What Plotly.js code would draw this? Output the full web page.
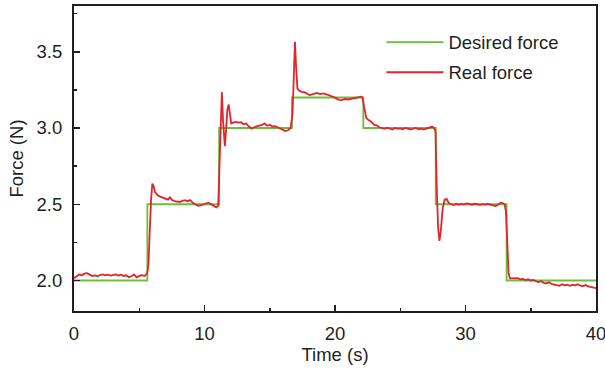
<!DOCTYPE html>
<html>
<head>
<meta charset="utf-8">
<script src="https://cdn.plot.ly/plotly-3.0.1.min.js"></script>
<style>html,body{margin:0;padding:0;background:#fff;}#chart{width:605px;height:369px;}</style>
</head>
<body>
<div id="chart"></div>
<script>
// Desired force (step profile)
const desiredTime  = [0, 5.62, 11.12, 16.7, 22.17, 27.72, 33.15, 40];
const desiredForce = [2.0, 2.5, 3.0, 3.2, 3.0, 2.5, 2.0, 2.0];

// Real force (measured)
const realTime = [
  0.0,0.2,0.4,0.6,0.8,1.0,1.2,1.4,1.6,1.8,2.0,2.2,2.4,2.6,2.8,3.0,3.2,3.4,3.6,3.8,4.0,4.2,4.4,4.6,4.8,5.0,5.2,5.4,5.6,
  5.7,5.8,5.9,6.0,6.1,6.2,6.4,6.6,6.8,7.0,7.2,7.35,7.5,7.7,7.9,8.1,8.3,8.5,8.7,8.9,9.1,9.3,9.5,9.7,9.9,10.1,10.3,10.5,10.7,10.9,11.05,
  11.15,11.25,11.33,11.42,11.5,11.56,11.65,11.75,11.85,11.95,12.05,12.2,12.4,12.6,12.8,13.0,13.2,13.4,13.6,13.8,14.0,14.2,14.4,14.6,14.8,15.0,15.2,15.4,15.6,15.8,16.0,16.2,16.4,16.6,
  16.75,16.85,16.93,17.02,17.12,17.25,17.45,17.65,17.85,18.05,18.3,18.6,18.85,19.1,19.35,19.6,19.85,20.1,20.3,20.5,20.75,21.0,21.25,21.5,21.75,21.95,22.1,
  22.25,22.4,22.6,22.8,23.0,23.2,23.4,23.6,23.8,24.0,24.2,24.4,24.6,24.8,25.0,25.2,25.4,25.6,25.8,26.0,26.2,26.4,26.6,26.8,27.0,27.2,27.4,27.55,27.7,
  27.8,27.9,28.0,28.1,28.25,28.4,28.55,28.7,28.9,29.1,29.3,29.5,29.7,29.9,30.1,30.3,30.5,30.7,30.9,31.1,31.3,31.5,31.7,31.9,32.1,32.3,32.5,32.7,32.85,33.0,
  33.1,33.2,33.3,33.4,33.6,33.8,34.0,34.2,34.4,34.6,34.8,35.0,35.2,35.4,35.6,35.8,36.0,36.2,36.4,36.6,36.8,37.0,37.2,37.4,37.6,37.8,38.0,38.2,38.4,38.6,38.8,39.0,39.2,39.4,39.6,39.8,40.0
];
const realForce = [
  2.015,2.03,2.04,2.035,2.045,2.048,2.038,2.03,2.034,2.028,2.036,2.04,2.034,2.038,2.032,2.036,2.04,2.033,2.038,2.03,2.034,2.022,2.028,2.04,2.02,2.03,2.035,2.03,2.045,
  2.10,2.35,2.52,2.635,2.62,2.58,2.56,2.55,2.545,2.535,2.53,2.545,2.53,2.52,2.515,2.515,2.522,2.527,2.52,2.527,2.51,2.498,2.49,2.492,2.5,2.505,2.51,2.5,2.485,2.48,2.49,
  2.75,3.1,3.235,3.05,2.9,2.88,2.98,3.12,3.155,3.08,3.03,3.035,3.04,3.035,3.038,3.025,3.03,3.01,2.997,3.005,3.008,3.015,3.02,3.03,3.015,3.022,3.01,3.012,3.005,2.995,2.988,2.98,2.985,3.0,
  3.1,3.4,3.565,3.4,3.26,3.245,3.237,3.235,3.227,3.216,3.222,3.23,3.222,3.227,3.22,3.215,3.205,3.194,3.185,3.183,3.19,3.187,3.19,3.194,3.2,3.205,3.2,
  3.13,3.065,3.05,3.04,3.02,3.018,3.005,3.0,2.995,3.002,2.997,2.99,3.0,2.995,2.998,2.992,3.0,2.996,2.99,2.995,3.0,2.992,2.996,2.99,2.995,3.0,3.008,3.005,2.98,
  2.6,2.35,2.26,2.32,2.47,2.53,2.535,2.51,2.5,2.495,2.503,2.497,2.502,2.498,2.506,2.5,2.497,2.503,2.5,2.496,2.501,2.498,2.503,2.497,2.492,2.488,2.497,2.51,2.508,2.5,
  2.45,2.2,2.05,2.014,2.015,2.012,2.015,2.008,2.01,2.003,2.008,2.0,2.004,1.995,1.99,1.995,1.985,1.982,1.988,1.978,1.975,1.968,1.965,1.975,1.968,1.972,1.965,1.972,1.968,1.975,1.966,1.964,1.97,1.962,1.958,1.955,1.95
];

const xTickVals = [0, 10, 20, 30, 40];
const yTickVals = [2.0, 2.5, 3.0, 3.5];

const font = {family: 'Liberation Sans, Arial, sans-serif', size: 18.5, color: '#231f20'};

const traces = [
  {x: desiredTime, y: desiredForce, name: 'Desired force', mode: 'lines', legendgroup: 'a',
   line: {color: '#6cbf3c', width: 1.8, shape: 'hv'}},
  {x: realTime, y: realForce, name: 'Real force', mode: 'lines', legendgroup: 'b',
   line: {color: '#e2242c', width: 1.8}}
];

const axisCommon = {
  showgrid: false, zeroline: false, showline: true, mirror: true,
  linecolor: '#231f20', linewidth: 2,
  ticks: 'inside', ticklen: 6, tickwidth: 1.5, tickcolor: '#231f20',
  tickfont: font, ticklabeloverflow: 'allow'
};

const layout = {
  width: 605, height: 369,
  margin: {l: 74, r: 9, t: 6, b: 58},
  paper_bgcolor: '#ffffff', plot_bgcolor: '#ffffff',
  font: font,
  showlegend: true,
  legend: {x: 0.589, y: 0.942, xanchor: 'left', yanchor: 'top', bgcolor: 'rgba(0,0,0,0)',
           font: font, itemwidth: 57, traceorder: 'grouped', tracegroupgap: 3},
  xaxis: Object.assign({}, axisCommon, {
    range: [0, 40], tickvals: xTickVals, ticktext: xTickVals.map(String),
    ticklabelstandoff: 5,
    minor: {ticks: 'inside', ticklen: 3, tickwidth: 1.5, tickcolor: '#231f20', dtick: 5, tick0: 0},
    title: {text: 'Time (s)', font: font, standoff: 0}
  }),
  yaxis: Object.assign({}, axisCommon, {
    range: [1.8, 3.8], tickvals: yTickVals, ticktext: yTickVals.map(v => v.toFixed(1)),
    ticklabelstandoff: 6,
    minor: {ticks: 'inside', ticklen: 3, tickwidth: 1.5, tickcolor: '#231f20', dtick: 0.25, tick0: 2.0},
    title: {text: 'Force (N)', font: font, standoff: 8}
  })
};

Plotly.newPlot('chart', traces, layout, {staticPlot: true, displayModeBar: false});
</script>
</body>
</html>
